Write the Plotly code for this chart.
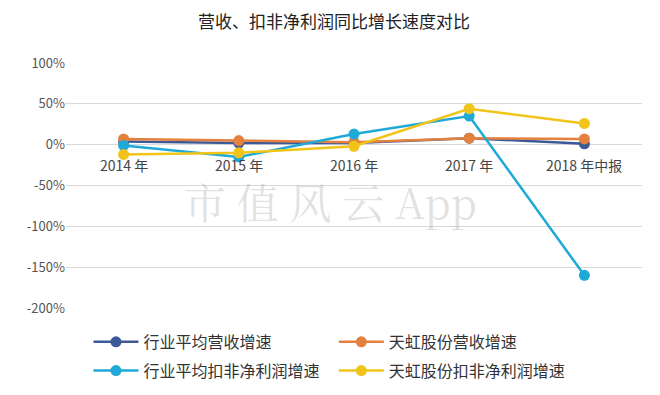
import plotly.graph_objects as go

categories = ["2014 年", "2015 年", "2016 年", "2017 年", "2018 年中报"]
industry_rev = [4, 2, 2, 8, 1]
tianhong_rev = [7, 5, 3, 8, 7]
industry_profit = [-1, -15, 13, 35, -160]
tianhong_profit = [-12, -10, -2, 44, 26]
y_ticks = [100, 50, 0, -50, -100, -150, -200]
y_tick_text = ["100%", "50%", "0%", "-50%", "-100%", "-150%", "-200%"]

series = [
    ("行业平均营收增速", industry_rev, "#3d5a98", "legend"),
    ("天虹股份营收增速", tianhong_rev, "#e5813f", "legend2"),
    ("行业平均扣非净利润增速", industry_profit, "#1ea9d6", "legend"),
    ("天虹股份扣非净利润增速", tianhong_profit, "#f0c419", "legend2"),
]

fig = go.Figure()
for name, vals, col, lg in series:
    fig.add_trace(go.Scatter(
        x=list(range(len(categories))), y=vals, name=name, mode="lines+markers",
        line=dict(color=col, width=2.5), marker=dict(color=col, size=11),
        legend=lg, legendgroup=name,
    ))

font = "Noto Sans CJK SC"
for i, c in enumerate(categories):
    fig.add_annotation(x=i, y=0, text=c, showarrow=False, yshift=-20,
                       font=dict(family=font, size=14, color="#444444"))

fig.add_annotation(x=0.46, y=0.435, xref="paper", yref="paper", text="市 值 风 云 App",
                   showarrow=False,
                   font=dict(family="Noto Serif CJK SC, Liberation Serif, serif", size=42,
                             color="rgba(150,150,150,0.28)"))

legend_common = dict(orientation="v", xanchor="left", yanchor="top",
                     tracegroupgap=5, bgcolor="rgba(0,0,0,0)", itemwidth=45,
                     font=dict(family=font, size=16, color="#333333"))

fig.update_layout(
    width=652, height=387,
    margin=dict(l=58, r=18, t=55, b=87, autoexpand=False),
    paper_bgcolor="white", plot_bgcolor="white",
    title=dict(text="营收、扣非净利润同比增长速度对比", x=0.5, xanchor="center",
               y=0.965, yanchor="middle", yref="container",
               font=dict(family=font, size=17, color="#222222")),
    xaxis=dict(range=[-0.5, 4.5], showticklabels=False, showgrid=False, zeroline=False),
    yaxis=dict(range=[-200, 100], tickvals=y_ticks, ticktext=y_tick_text,
               showgrid=True, gridcolor="#d9d9d9", gridwidth=1, zeroline=False,
               tickfont=dict(family=font, size=13, color="#555555")),
    legend=dict(x=0.039, y=-0.069, **legend_common),
    legend2=dict(x=0.465, y=-0.069, **legend_common),
    showlegend=True,
)

fig.write_html("out.html")
